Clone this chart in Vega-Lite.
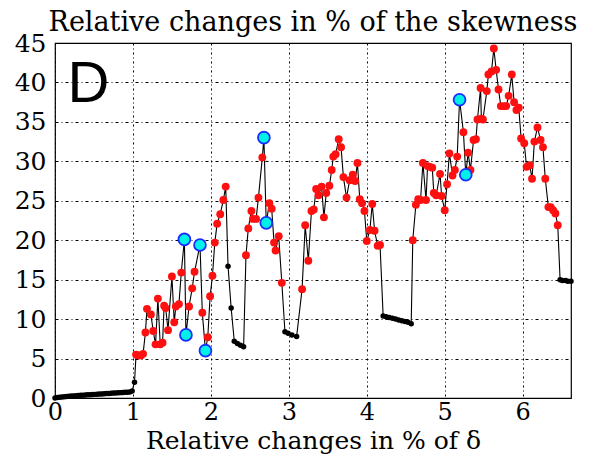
{
"$schema": "https://vega.github.io/schema/vega-lite/v6.json",
"width": 516, "height": 355,
"autosize": {"type": "none"},
"padding": {"left": 55, "top": 43, "right": 21, "bottom": 57},
"background": "white",
"title": {"text": "Relative changes in % of the skewness", "font": "DejaVu Serif", "fontSize": 27, "fontWeight": "normal", "color": "black", "baseline": "alphabetic", "offset": -27, "anchor": "middle"},
"config": {"view": {"stroke": "black", "strokeWidth": 1.2}, "axis": {"labelOverlap": false, "labelFlush": false}},
"datasets": {
"pts": [
{"x":0.0,"y":0.0,"c":"k"},{"x":0.03,"y":0.05,"c":"k"},{"x":0.06,"y":0.09,"c":"k"},{"x":0.09,"y":0.13,"c":"k"},{"x":0.12,"y":0.16,"c":"k"},{"x":0.15,"y":0.19,"c":"k"},{"x":0.18,"y":0.22,"c":"k"},{"x":0.21,"y":0.25,"c":"k"},{"x":0.24,"y":0.27,"c":"k"},{"x":0.27,"y":0.3,"c":"k"},{"x":0.3,"y":0.32,"c":"k"},{"x":0.33,"y":0.34,"c":"k"},{"x":0.36,"y":0.36,"c":"k"},{"x":0.39,"y":0.38,"c":"k"},{"x":0.42,"y":0.4,"c":"k"},{"x":0.45,"y":0.42,"c":"k"},{"x":0.48,"y":0.44,"c":"k"},{"x":0.51,"y":0.46,"c":"k"},{"x":0.54,"y":0.48,"c":"k"},{"x":0.57,"y":0.5,"c":"k"},{"x":0.6,"y":0.52,"c":"k"},{"x":0.63,"y":0.54,"c":"k"},{"x":0.66,"y":0.56,"c":"k"},{"x":0.69,"y":0.58,"c":"k"},{"x":0.72,"y":0.6,"c":"k"},{"x":0.75,"y":0.62,"c":"k"},{"x":0.78,"y":0.64,"c":"k"},{"x":0.81,"y":0.66,"c":"k"},{"x":0.84,"y":0.68,"c":"k"},{"x":0.87,"y":0.7,"c":"k"},{"x":0.9,"y":0.72,"c":"k"},{"x":0.93,"y":0.74,"c":"k"},{"x":0.96,"y":0.77,"c":"k"},{"x":0.99,"y":0.9,"c":"k"},{"x":1.02,"y":2.0,"c":"k"},
{"x":1.04,"y":5.5,"c":"r"},{"x":1.07,"y":5.4,"c":"r"},{"x":1.1,"y":5.4,"c":"r"},{"x":1.13,"y":5.6,"c":"r"},{"x":1.16,"y":8.3,"c":"r"},{"x":1.18,"y":11.3,"c":"r"},{"x":1.23,"y":10.6,"c":"r"},{"x":1.26,"y":8.5,"c":"r"},{"x":1.29,"y":6.8,"c":"r"},{"x":1.32,"y":12.6,"c":"r"},{"x":1.35,"y":6.8,"c":"r"},{"x":1.38,"y":7.0,"c":"r"},{"x":1.4,"y":11.7,"c":"r"},{"x":1.42,"y":11.4,"c":"r"},{"x":1.45,"y":8.6,"c":"r"},{"x":1.5,"y":15.4,"c":"r"},{"x":1.53,"y":9.6,"c":"r"},{"x":1.55,"y":11.6,"c":"r"},{"x":1.59,"y":11.9,"c":"r"},{"x":1.62,"y":15.9,"c":"r"},{"x":1.66,"y":20.1,"c":"c"},{"x":1.68,"y":8.0,"c":"c"},{"x":1.72,"y":11.6,"c":"r"},{"x":1.76,"y":13.9,"c":"r"},{"x":1.79,"y":16.0,"c":"r"},{"x":1.86,"y":19.4,"c":"c"},{"x":1.89,"y":10.8,"c":"r"},{"x":1.93,"y":6.0,"c":"c"},{"x":1.96,"y":7.7,"c":"r"},{"x":1.99,"y":12.9,"c":"r"},{"x":2.02,"y":15.5,"c":"r"},{"x":2.05,"y":19.7,"c":"r"},{"x":2.08,"y":22.1,"c":"r"},{"x":2.12,"y":23.3,"c":"r"},{"x":2.16,"y":25.1,"c":"r"},{"x":2.19,"y":26.8,"c":"r"},
{"x":2.22,"y":16.7,"c":"k"},{"x":2.26,"y":11.4,"c":"k"},{"x":2.3,"y":7.2,"c":"k"},{"x":2.34,"y":6.9,"c":"k"},{"x":2.38,"y":6.7,"c":"k"},{"x":2.42,"y":6.5,"c":"k"},
{"x":2.45,"y":18.1,"c":"r"},{"x":2.48,"y":21.5,"c":"r"},{"x":2.52,"y":23.7,"c":"r"},{"x":2.54,"y":22.7,"c":"r"},{"x":2.58,"y":22.7,"c":"r"},{"x":2.61,"y":25.4,"c":"r"},{"x":2.66,"y":30.5,"c":"r"},{"x":2.68,"y":33.0,"c":"c"},{"x":2.71,"y":22.2,"c":"c"},{"x":2.75,"y":24.7,"c":"r"},{"x":2.78,"y":24.0,"c":"r"},{"x":2.81,"y":19.7,"c":"r"},{"x":2.83,"y":18.7,"c":"r"},{"x":2.87,"y":20.5,"c":"r"},{"x":2.91,"y":14.6,"c":"r"},
{"x":2.95,"y":8.4,"c":"k"},{"x":2.99,"y":8.2,"c":"k"},{"x":3.04,"y":8.0,"c":"k"},{"x":3.1,"y":7.8,"c":"k"},
{"x":3.17,"y":13.8,"c":"r"},{"x":3.21,"y":21.9,"c":"r"},{"x":3.25,"y":17.4,"c":"r"},{"x":3.29,"y":23.7,"c":"r"},{"x":3.32,"y":23.9,"c":"r"},{"x":3.35,"y":26.5,"c":"r"},{"x":3.38,"y":25.7,"c":"r"},{"x":3.42,"y":26.8,"c":"r"},{"x":3.45,"y":22.9,"c":"r"},{"x":3.48,"y":26.0,"c":"r"},{"x":3.52,"y":26.9,"c":"r"},{"x":3.55,"y":28.9,"c":"r"},{"x":3.57,"y":30.6,"c":"r"},{"x":3.6,"y":30.9,"c":"r"},{"x":3.64,"y":32.8,"c":"r"},{"x":3.67,"y":31.8,"c":"r"},{"x":3.7,"y":28.0,"c":"r"},{"x":3.74,"y":25.4,"c":"r"},{"x":3.78,"y":27.6,"c":"r"},{"x":3.82,"y":28.3,"c":"r"},{"x":3.85,"y":27.5,"c":"r"},{"x":3.88,"y":29.8,"c":"r"},{"x":3.91,"y":25.2,"c":"r"},{"x":3.94,"y":24.7,"c":"r"},{"x":3.97,"y":23.7,"c":"r"},{"x":4.0,"y":19.9,"c":"r"},{"x":4.04,"y":21.3,"c":"r"},{"x":4.07,"y":24.6,"c":"r"},{"x":4.1,"y":21.2,"c":"r"},{"x":4.14,"y":19.3,"c":"r"},{"x":4.17,"y":19.4,"c":"r"},
{"x":4.21,"y":10.4,"c":"k"},{"x":4.25,"y":10.3,"c":"k"},{"x":4.29,"y":10.2,"c":"k"},{"x":4.33,"y":10.1,"c":"k"},{"x":4.37,"y":10.0,"c":"k"},{"x":4.41,"y":9.9,"c":"k"},{"x":4.45,"y":9.8,"c":"k"},{"x":4.49,"y":9.7,"c":"k"},{"x":4.53,"y":9.6,"c":"k"},{"x":4.57,"y":9.4,"c":"k"},
{"x":4.59,"y":20.0,"c":"r"},{"x":4.63,"y":24.5,"c":"r"},{"x":4.66,"y":25.2,"c":"r"},{"x":4.69,"y":25.1,"c":"r"},{"x":4.72,"y":29.8,"c":"r"},{"x":4.76,"y":25.1,"c":"r"},{"x":4.78,"y":29.4,"c":"r"},{"x":4.81,"y":29.3,"c":"r"},{"x":4.84,"y":29.2,"c":"r"},{"x":4.86,"y":26.0,"c":"r"},{"x":4.89,"y":25.7,"c":"r"},{"x":4.94,"y":28.4,"c":"r"},{"x":4.96,"y":25.6,"c":"r"},{"x":5.0,"y":23.8,"c":"r"},{"x":5.03,"y":27.1,"c":"r"},{"x":5.06,"y":31.0,"c":"r"},{"x":5.1,"y":28.2,"c":"r"},{"x":5.13,"y":28.9,"c":"r"},{"x":5.16,"y":30.6,"c":"r"},{"x":5.19,"y":37.8,"c":"c"},{"x":5.24,"y":33.7,"c":"r"},{"x":5.27,"y":28.3,"c":"c"},{"x":5.3,"y":31.1,"c":"r"},{"x":5.33,"y":28.9,"c":"r"},{"x":5.37,"y":32.7,"c":"r"},{"x":5.4,"y":32.8,"c":"r"},{"x":5.42,"y":35.3,"c":"r"},{"x":5.46,"y":39.3,"c":"r"},{"x":5.47,"y":35.4,"c":"r"},{"x":5.49,"y":35.3,"c":"r"},{"x":5.54,"y":38.9,"c":"r"},{"x":5.56,"y":41.0,"c":"r"},{"x":5.6,"y":41.4,"c":"r"},{"x":5.63,"y":44.3,"c":"r"},{"x":5.66,"y":41.6,"c":"r"},{"x":5.69,"y":39.1,"c":"r"},{"x":5.72,"y":37.0,"c":"r"},{"x":5.76,"y":37.0,"c":"r"},{"x":5.79,"y":37.0,"c":"r"},{"x":5.82,"y":38.3,"c":"r"},{"x":5.86,"y":41.0,"c":"r"},{"x":5.89,"y":37.5,"c":"r"},{"x":5.92,"y":36.5,"c":"r"},{"x":5.95,"y":36.8,"c":"r"},{"x":5.98,"y":32.9,"c":"r"},{"x":6.02,"y":32.3,"c":"r"},{"x":6.05,"y":29.3,"c":"r"},{"x":6.09,"y":29.5,"c":"r"},{"x":6.12,"y":27.8,"c":"r"},{"x":6.15,"y":32.5,"c":"r"},{"x":6.19,"y":34.3,"c":"r"},{"x":6.23,"y":32.7,"c":"r"},{"x":6.26,"y":31.8,"c":"r"},{"x":6.29,"y":27.8,"c":"r"},{"x":6.33,"y":24.2,"c":"r"},{"x":6.36,"y":24.2,"c":"r"},{"x":6.39,"y":23.8,"c":"r"},{"x":6.42,"y":23.4,"c":"r"},{"x":6.45,"y":21.9,"c":"r"},
{"x":6.48,"y":15.0,"c":"k"},{"x":6.51,"y":14.9,"c":"k"},{"x":6.55,"y":14.9,"c":"k"},{"x":6.58,"y":14.8,"c":"k"},{"x":6.62,"y":14.8,"c":"k"}
],
"lbl": [{"x":0.16,"y":37.5,"t":"D"}]
},
"encoding": {
  "x": {"field": "x", "type": "quantitative", "scale": {"domain": [0, 6.62], "nice": false, "zero": false},
   "axis": {"values": [0,1,2,3,4,5,6], "format": "d", "title": "Relative changes in % of δ", "titleFont": "DejaVu Serif", "titleFontSize": 25, "titleFontWeight": "normal", "titleColor": "black", "titlePadding": 4,
    "labelFont": "DejaVu Serif", "labelFontSize": 24, "labelColor": "black", "labelPadding": 2, "labelFlush": false, "labelOverlap": false, "ticks": false, "domain": false,
    "grid": true, "gridColor": "black", "gridWidth": 1, "gridDash": [2,3,1,3], "gridOpacity": 1}},
  "y": {"field": "y", "type": "quantitative", "scale": {"domain": [0, 45], "nice": false},
   "axis": {"values": [0,5,10,15,20,25,30,35,40,45], "format": "d", "title": null,
    "labelFont": "DejaVu Serif", "labelFontSize": 25, "labelColor": "black", "labelPadding": 9, "labelFlush": false, "labelOverlap": false, "ticks": false, "domain": false,
    "grid": true, "gridColor": "black", "gridWidth": 1, "gridDash": [3,3,1,3], "gridOpacity": 1}}
},
"layer": [
{"data": {"name": "pts"}, "mark": {"type": "line", "color": "black", "strokeWidth": 1.1},
 "encoding": {"order": {"value": null}}},
{"data": {"name": "pts"}, "transform": [{"filter": "datum.c === 'k'"}],
 "mark": {"type": "circle", "color": "black", "opacity": 1, "size": 30}},
{"data": {"name": "pts"}, "transform": [{"filter": "datum.c === 'r'"}],
 "mark": {"type": "circle", "color": "#ff1010", "opacity": 1, "size": 62}},
{"data": {"name": "pts"}, "transform": [{"filter": "datum.c === 'c'"}],
 "mark": {"type": "circle", "fill": "#00f2e6", "stroke": "#1a2cff", "strokeWidth": 1.8, "opacity": 1, "fillOpacity": 1, "strokeOpacity": 1, "size": 140}},
{"data": {"name": "lbl"}, "mark": {"type": "text", "font": "Liberation Sans", "fontSize": 58, "align": "left", "baseline": "alphabetic", "color": "black"},
 "encoding": {"text": {"field": "t"}}}
]
}
